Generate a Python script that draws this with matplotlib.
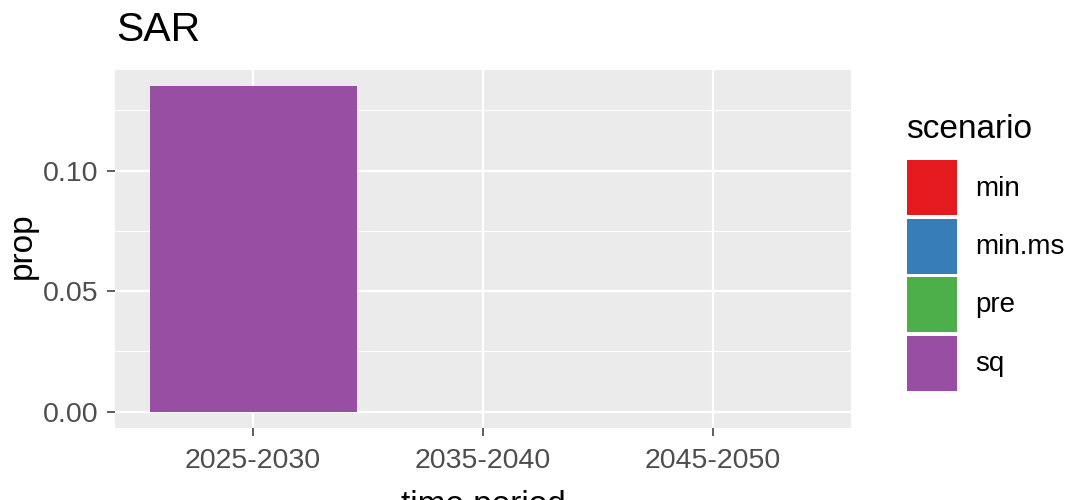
import matplotlib
matplotlib.use("Agg")
import matplotlib.pyplot as plt
from matplotlib.patches import Rectangle
import numpy as np

plt.rcParams['font.family'] = ['Liberation Sans', 'DejaVu Sans']

# ---- data ----
categories = ['2025-2030', '2035-2040', '2045-2050']
scenarios = ['min', 'min.ms', 'pre', 'sq']
colors = ['#E41A1C', '#377EB8', '#4DAF4A', '#984EA3']
values = {
    'min':    [None, None, None],
    'min.ms': [None, None, None],
    'pre':    [None, None, None],
    'sq':     [0.135, None, None],
}
yticks = [0.00, 0.05, 0.10]
ytick_labels = ['0.00', '0.05', '0.10']
title = 'SAR'
xlabel = 'time period'
ylabel = 'prop'
legend_title = 'scenario'

W, H = 1070, 500
fig = plt.figure(figsize=(W / 100, H / 100), dpi=100)
ax = fig.add_axes([115 / W, 1 - 428 / H, (851 - 115) / W, (428 - 70) / H])
ax.set_facecolor('#EBEBEB')

# dodged bars
xpos = np.arange(1, len(categories) + 1)
total_w = 0.9
for i, cat in enumerate(categories):
    present = [s for s in scenarios if values[s][i] is not None]
    n = len(present)
    if n == 0:
        continue
    w = total_w / n
    for j, s in enumerate(present):
        x = xpos[i] - total_w / 2 + w * (j + 0.5)
        ax.bar(x, values[s][i], width=w, color=colors[scenarios.index(s)],
               zorder=3, linewidth=0)

# scales
allv = [v for s in scenarios for v in values[s] if v is not None] + [0]
ymin, ymax = min(allv), max(allv)
pad = (ymax - ymin) * 0.05
ax.set_ylim(ymin - pad, ymax + pad)
ax.set_xlim(0.4, len(categories) + 0.6)

ax.set_yticks(yticks)
ax.set_yticklabels(ytick_labels)
ax.set_yticks([0.025, 0.075, 0.125], minor=True)
ax.set_xticks(xpos)
ax.set_xticklabels(categories)

ax.grid(True, which='major', color='white', linewidth=1.6, zorder=0)
ax.grid(True, which='minor', axis='y', color='white', linewidth=0.8, zorder=0)
ax.set_axisbelow(True)
for sp in ax.spines.values():
    sp.set_visible(False)
ax.tick_params(axis='both', which='major', length=5.5, width=1.1, color='#333333',
               labelcolor='#4D4D4D', labelsize=20.5)
ax.tick_params(axis='x', which='major', pad=9)
ax.tick_params(axis='y', which='major', pad=6.5)
ax.tick_params(axis='both', which='minor', length=0)

# titles / axis labels
fig.text(116 / W, 1 - 11 / H, title, fontsize=29.5, color='black',
         ha='left', va='top')
fig.text(483 / W, 1 - 490 / H, xlabel, fontsize=24, color='black',
         ha='center', va='top')
fig.text(22 / W, 1 - 246 / H, ylabel, fontsize=24, color='black',
         ha='center', va='center', rotation=90)

# legend (drawn manually, ggplot style)
fig.text(906 / W, 1 - 138 / H, legend_title, fontsize=24, color='black',
         ha='left', va='baseline')
key_top = 160
key_pitch = 58.5
key_h = 55
key_w = 50
for k, (s, c) in enumerate(zip(scenarios, colors)):
    top = key_top + k * key_pitch
    fig.patches.append(Rectangle((907 / W, 1 - (top + key_h) / H),
                                 key_w / W, key_h / H, facecolor=c,
                                 edgecolor='none', transform=fig.transFigure,
                                 figure=fig))
    fig.text(975 / W, 1 - (top + key_h / 2 + 8) / H, s, fontsize=20,
             color='black', ha='left', va='baseline')

fig.savefig('out.png', dpi=100)
